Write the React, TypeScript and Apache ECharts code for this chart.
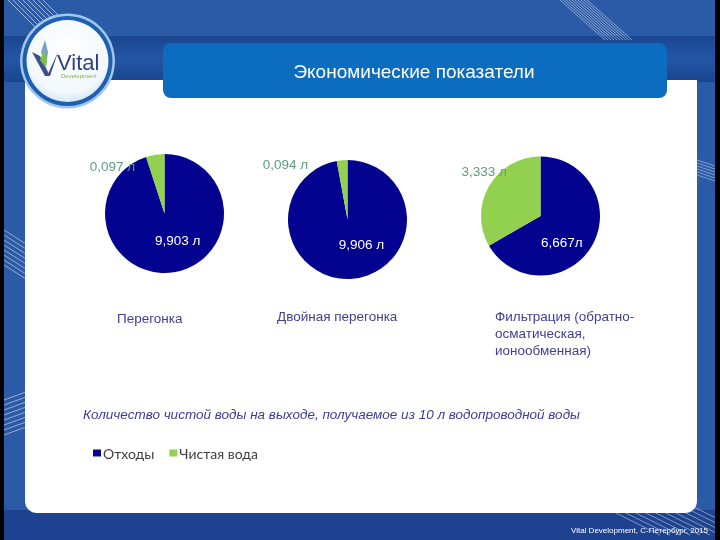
import React, { useEffect, useRef } from "react";
import * as echarts from "echarts";

const categories = [
  "Перегонка",
  "Двойная перегонка",
  "Фильтрация (обратно-\nосматическая,\nионообменная)",
];
const seriesNames = ["Отходы", "Чистая вода"];
// slice sizes (share of the full circle, %) as drawn in the picture
const wasteShare = [95, 97.1, 66.67];
const cleanShare = [5, 2.9, 33.33];
// printed slice labels
const wasteLabels = ["9,903 л", "9,906 л", "6,667л"];
const cleanLabels = ["0,097 л", "0,094 л", "3,333 л"];
const chartTitle = "Экономические показатели";
const subtitle =
  "Количество чистой воды на выходе, получаемое из 10 л водопроводной воды";
const footer = "Vital Development, С-Петербург, 2015";

const centers: [number, number][] = [
  [164.5, 213.5],
  [347.5, 219.5],
  [540.5, 216],
];
const wasteOffsets: [number, number][] = [
  [8, -5],
  [11, -8],
  [-7, 10],
];
const cleanOffsets: [number, number][] = [
  [-47, -15],
  [-59, -22],
  [-28, -28],
];
const catPos: [number, number][] = [
  [117, 310],
  [277, 308],
  [495, 308],
];

const NAVY = "#03038f";
const GREEN = "#92d050";

function stripes(
  x0: number,
  y0: number,
  dx: number,
  dy: number,
  n: number,
  gx: number,
  gy: number,
  opacity: number
) {
  const out: any[] = [];
  for (let i = 0; i < n; i++) {
    out.push({
      type: "line",
      z: 1,
      shape: {
        x1: x0 + i * gx,
        y1: y0 + i * gy,
        x2: x0 + i * gx + dx,
        y2: y0 + i * gy + dy,
      },
      style: { stroke: "#ffffff", lineWidth: 1, opacity },
      silent: true,
    });
  }
  return out;
}

export default function App() {
  const ref = useRef<HTMLDivElement>(null);
  useEffect(() => {
    if (!ref.current) return;
    const chart = echarts.init(ref.current, null, { renderer: "svg" });

    const series = centers.map((c, i) => ({
      type: "pie",
      name: categories[i],
      center: c,
      radius: 59.5,
      startAngle: 90,
      clockwise: true,
      z: 5,
      silent: true,
      labelLine: { show: false },
      itemStyle: { borderWidth: 0 },
      data: [
        {
          name: seriesNames[0],
          value: wasteShare[i],
          itemStyle: { color: NAVY },
          label: {
            show: true,
            position: "inside",
            formatter: wasteLabels[i],
            offset: wasteOffsets[i],
            color: "#ffffff",
            fontSize: 13.5,
            fontWeight: 500,
            fontFamily: "Liberation Sans, Arial, sans-serif",
          },
        },
        {
          name: seriesNames[1],
          value: cleanShare[i],
          itemStyle: { color: GREEN },
          label: {
            show: true,
            position: "inside",
            formatter: cleanLabels[i],
            offset: cleanOffsets[i],
            color: "#5e9c7e",
            fontSize: 13.5,
            fontFamily: "Liberation Sans, Arial, sans-serif",
          },
        },
      ],
    }));

    const bg: any[] = [
      { type: "rect", z: 0, shape: { x: 0, y: 0, width: 720, height: 540 }, style: { fill: "#2b5aa6" }, silent: true },
      {
        type: "rect",
        z: 0,
        shape: { x: 0, y: 36, width: 720, height: 46 },
        style: {
          fill: new echarts.graphic.LinearGradient(0, 0, 0, 1, [
            { offset: 0, color: "#1b4690" },
            { offset: 0.5, color: "#2456a5" },
            { offset: 1, color: "#1a4590" },
          ]),
        },
        silent: true,
      },
      { type: "rect", z: 0, shape: { x: 0, y: 510, width: 720, height: 30 }, style: { fill: "#1f4290" }, silent: true },
      ...stripes(8, 0, 40, 40, 8, 5, 0, 0.55),
      ...stripes(560, 0, 45, 40, 10, 3, 0, 0.45),
      ...stripes(4, 230, 22, 14, 8, 0, 5, 0.5),
      ...stripes(4, 400, 22, -8, 8, 0, 5, 0.5),
      ...stripes(697, 160, 18, 6, 6, 0, 3, 0.4),
      ...stripes(600, 505, 60, 30, 10, 10, 0, 0.45),
      {
        type: "rect",
        z: 1,
        shape: { x: 25, y: 80, width: 672, height: 433, r: [0, 0, 12, 12] },
        style: { fill: "#ffffff" },
        silent: true,
      },
      { type: "rect", z: 2, shape: { x: 0, y: 0, width: 4, height: 540 }, style: { fill: "#000000" }, silent: true },
      { type: "rect", z: 2, shape: { x: 715, y: 0, width: 5, height: 540 }, style: { fill: "#000000" }, silent: true },
      {
        type: "rect",
        z: 2,
        shape: { x: 163, y: 43, width: 504, height: 55, r: 8 },
        style: { fill: "#0b6cc0" },
        silent: true,
      },
      {
        type: "text",
        z: 3,
        x: 414,
        y: 71,
        style: {
          text: chartTitle,
          fill: "#ffffff",
          fontSize: 19,
          fontFamily: "Liberation Sans, Arial, sans-serif",
          align: "center",
          verticalAlign: "middle",
        },
        silent: true,
      },
      // logo
      { type: "circle", z: 2, shape: { cx: 67.5, cy: 61, r: 47.5 }, style: { fill: "#9fc8ec" }, silent: true },
      { type: "circle", z: 2, shape: { cx: 67.5, cy: 61, r: 45 }, style: { fill: "#1f5fb0" }, silent: true },
      {
        type: "circle",
        z: 2,
        shape: { cx: 67.5, cy: 61, r: 41 },
        style: {
          fill: new echarts.graphic.RadialGradient(0.5, 0.4, 0.7, [
            { offset: 0, color: "#ffffff" },
            { offset: 0.7, color: "#f2f8fd" },
            { offset: 1, color: "#bcd9f0" },
          ]),
        },
        silent: true,
      },
      { type: "polygon", z: 3, shape: { points: [[32, 52], [45, 76], [50, 76], [40, 56]] }, style: { fill: "#3a4f8f" }, silent: true },
      { type: "polygon", z: 3, shape: { points: [[58, 52], [47, 76], [50, 76], [56, 58]] }, style: { fill: "#3a4f8f" }, silent: true },
      { type: "polygon", z: 3, shape: { points: [[45, 40], [41, 52], [46, 66], [48, 52]] }, style: { fill: "#7aa0c8" }, silent: true },
      { type: "polygon", z: 3, shape: { points: [[44, 50], [40, 60], [46, 68], [47, 58]] }, style: { fill: "#7cc243" }, silent: true },
      {
        type: "text",
        z: 3,
        x: 57,
        y: 62,
        style: {
          text: "Vital",
          fill: "#2f3f86",
          fontSize: 22,
          fontFamily: "Liberation Sans, Arial, sans-serif",
          verticalAlign: "middle",
        },
        silent: true,
      },
      {
        type: "text",
        z: 3,
        x: 61,
        y: 76,
        style: {
          text: "Development",
          fill: "#7cb342",
          fontSize: 6,
          fontFamily: "Liberation Sans, Arial, sans-serif",
          verticalAlign: "middle",
        },
        silent: true,
      },
      // category labels
      ...categories.map((c, i) => ({
        type: "text",
        z: 3,
        x: catPos[i][0],
        y: catPos[i][1],
        style: {
          text: c,
          fill: "#3f3f96",
          fontSize: 13.5,
          lineHeight: 17,
          fontFamily: "Liberation Sans, Arial, sans-serif",
        },
        silent: true,
      })),
      {
        type: "text",
        z: 3,
        x: 83,
        y: 414,
        style: {
          text: subtitle,
          fill: "#3c3c9a",
          fontSize: 13.5,
          fontStyle: "italic",
          fontFamily: "Liberation Sans, Arial, sans-serif",
          verticalAlign: "middle",
        },
        silent: true,
      },
      {
        type: "text",
        z: 3,
        x: 708,
        y: 530,
        style: {
          text: footer,
          fill: "#ffffff",
          fontSize: 8,
          fontFamily: "Liberation Sans, Arial, sans-serif",
          align: "right",
          verticalAlign: "middle",
        },
        silent: true,
      },
    ];

    chart.setOption({
      animation: false,
      graphic: { elements: bg },
      legend: {
        data: seriesNames,
        left: 88,
        top: 441,
        icon: "rect",
        itemWidth: 8,
        itemHeight: 7,
        itemGap: 15,
        z: 6,
        textStyle: {
          fontFamily: "Lato, sans-serif",
          fontSize: 14,
          color: "#404040",
          padding: [0, 0, 0, -3],
        },
      },
      series,
    });
    return () => chart.dispose();
  }, []);
  return (
    <div
      ref={ref}
      style={{ position: "fixed", left: 0, top: 0, width: 720, height: 540 }}
    />
  );
}
